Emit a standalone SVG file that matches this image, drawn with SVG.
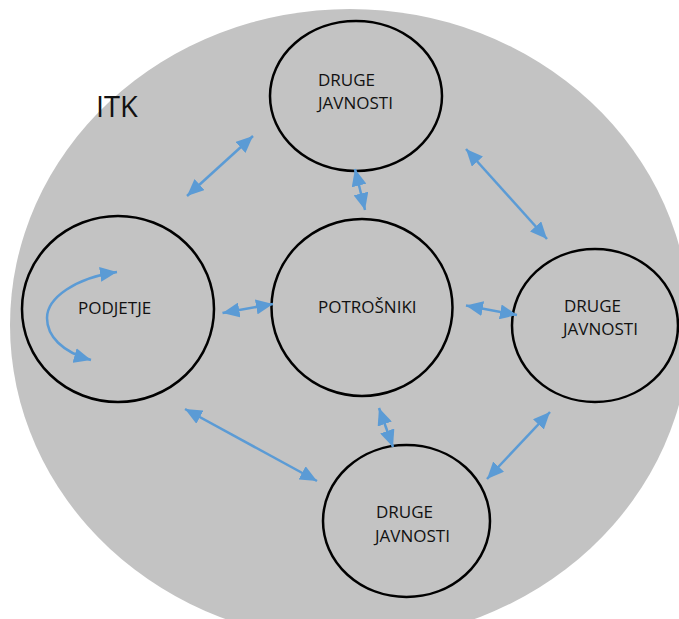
<svg xmlns="http://www.w3.org/2000/svg" width="679" height="619" viewBox="0 0 679 619">
<defs>
<style>
.bg{fill:#c3c3c3;stroke:none}
.node{fill:none;stroke:#000;stroke-width:2.5}
.lbl{font-family:"Open Sans","Noto Sans",sans-serif;font-size:17px;fill:#111}
.conn{fill:none;stroke:#5b9bd5;stroke-width:2.5;marker-start:url(#ah);marker-end:url(#ah)}
</style>
<marker id="ah" viewBox="0 0 10 10" refX="10" refY="5" markerUnits="userSpaceOnUse" markerWidth="17" markerHeight="15" preserveAspectRatio="none" orient="auto-start-reverse">
<path d="M0,0 L10,5 L0,10 z" fill="#5b9bd5"/>
</marker>
</defs>
<rect width="679" height="619" fill="#fff"/>
<ellipse class="bg" cx="350" cy="325" rx="340" ry="316"/>
<text x="96" y="117" style="font-family:'Open Sans','Noto Sans',sans-serif;font-size:29px;fill:#111">ITK</text>

<g id="n-top">
<ellipse class="node" cx="356" cy="96" rx="86" ry="75"/>
<text class="lbl" x="318" y="86">DRUGE</text>
<text class="lbl" x="318" y="109">JAVNOSTI</text>
</g>
<g id="n-podjetje">
<ellipse class="node" cx="118" cy="309" rx="96" ry="93"/>
<text class="lbl" x="78" y="314">PODJETJE</text>
</g>
<g id="n-potrosniki">
<ellipse class="node" cx="362" cy="307.5" rx="90.5" ry="88.5"/>
<text class="lbl" x="318" y="313">POTROŠNIKI</text>
</g>
<g id="n-right">
<ellipse class="node" cx="595" cy="325.5" rx="83" ry="76.5"/>
<text class="lbl" x="564" y="312">DRUGE</text>
<text class="lbl" x="563" y="335">JAVNOSTI</text>
</g>
<g id="n-bottom">
<ellipse class="node" cx="406.5" cy="521" rx="83.5" ry="76"/>
<text class="lbl" x="376" y="518">DRUGE</text>
<text class="lbl" x="375" y="541.5">JAVNOSTI</text>
</g>

<g id="connectors">
<path class="conn" d="M187,196 L253,136"/>
<path class="conn" d="M355,169 L365,210"/>
<path class="conn" d="M466,149 L547,239"/>
<path class="conn" d="M222.5,313 L273,304"/>
<path class="conn" d="M466,305.5 L517,315"/>
<path class="conn" d="M185,409 L317,481"/>
<path class="conn" d="M379,408 L393,447"/>
<path class="conn" d="M550,412 L487,479"/>
<path class="conn" d="M117,272 C75,278 47,298 47,318 C47,336 62,352 91,360"/>
</g>
</svg>
